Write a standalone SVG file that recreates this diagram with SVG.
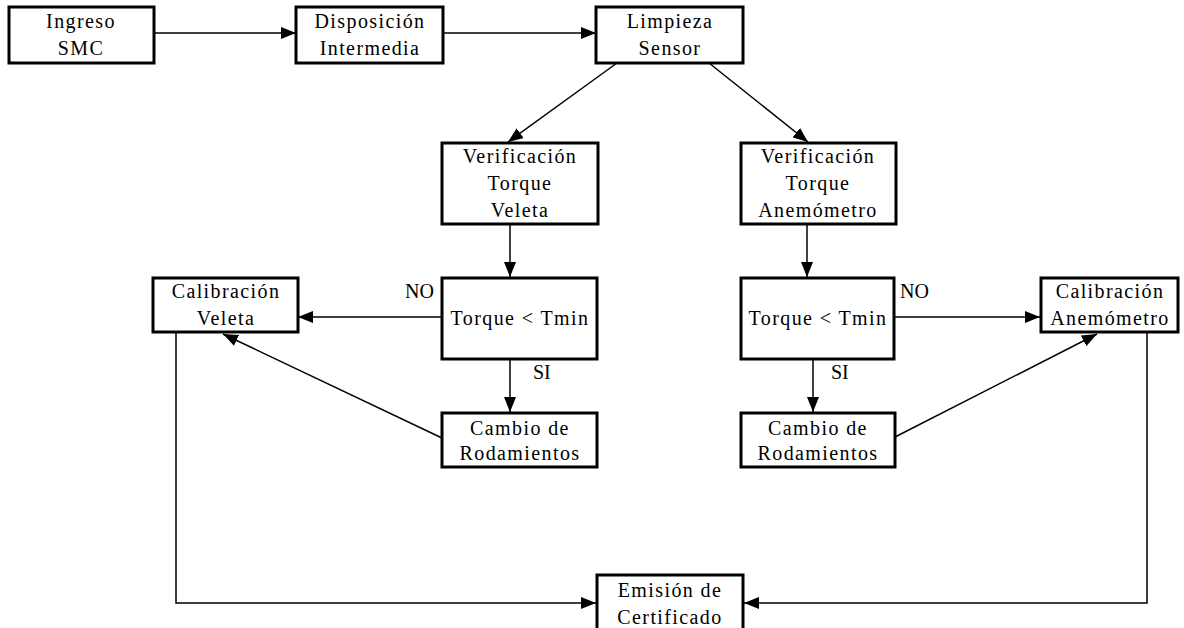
<svg xmlns="http://www.w3.org/2000/svg" width="1184" height="628" viewBox="0 0 1184 628" font-family="Liberation Serif, DejaVu Serif, serif">
  <style>
    .box { fill: #fff; stroke: #000; stroke-width: 3; }
    .lbl { font-size: 20px; fill: #000; text-anchor: middle; letter-spacing: 1.4px; }
    .tag { font-size: 20px; fill: #000; }
    .wire { fill: none; stroke: #000; stroke-width: 1.5; marker-end: url(#arrow); }
  </style>
  <defs>
    <marker id="arrow" markerUnits="userSpaceOnUse" markerWidth="16" markerHeight="12" refX="15" refY="6" orient="auto">
      <path d="M0,0 L15,6 L0,12 Z" fill="#000"/>
    </marker>
  </defs>
  <rect width="1184" height="628" fill="#fff"/>

  <!-- connectors -->
  <g id="connectors">
    <line class="wire" x1="154" y1="33" x2="296" y2="33"/>
    <line class="wire" x1="443" y1="33" x2="596" y2="33"/>
    <line class="wire" x1="617" y1="63" x2="508" y2="142"/>
    <line class="wire" x1="709" y1="63" x2="808" y2="142"/>
    <line class="wire" x1="510" y1="224" x2="510" y2="277"/>
    <line class="wire" x1="807" y1="224" x2="807" y2="277"/>
    <line class="wire" x1="442" y1="317" x2="298" y2="317"/>
    <line class="wire" x1="894" y1="317" x2="1040" y2="317"/>
    <line class="wire" x1="510" y1="359" x2="510" y2="412"/>
    <line class="wire" x1="813" y1="359" x2="813" y2="412"/>
    <line class="wire" x1="442" y1="438" x2="223" y2="334"/>
    <line class="wire" x1="895" y1="437" x2="1097" y2="334"/>
    <polyline class="wire" points="176,332 176,603 596,603"/>
    <polyline class="wire" points="1147,332 1147,603 744,603"/>
  </g>

  <!-- edge labels -->
  <g id="edge-labels">
    <text class="tag" x="405" y="298">NO</text>
    <text class="tag" x="900" y="298">NO</text>
    <text class="tag" x="533" y="379">SI</text>
    <text class="tag" x="831" y="379">SI</text>
  </g>

  <g id="ingreso">
    <rect class="box" x="9" y="7" width="145" height="56"/>
    <text class="lbl" x="81" y="28">Ingreso</text>
    <text class="lbl" x="81" y="55">SMC</text>
  </g>
  <g id="disposicion">
    <rect class="box" x="296" y="7" width="147" height="56"/>
    <text class="lbl" x="370" y="28">Disposición</text>
    <text class="lbl" x="370" y="55">Intermedia</text>
  </g>
  <g id="limpieza">
    <rect class="box" x="596" y="7" width="147" height="56"/>
    <text class="lbl" x="670" y="28">Limpieza</text>
    <text class="lbl" x="670" y="55">Sensor</text>
  </g>
  <g id="verif-veleta">
    <rect class="box" x="442" y="143" width="156" height="81"/>
    <text class="lbl" x="520" y="163">Verificación</text>
    <text class="lbl" x="520" y="190">Torque</text>
    <text class="lbl" x="520" y="217">Veleta</text>
  </g>
  <g id="verif-anemometro">
    <rect class="box" x="741" y="143" width="155" height="81"/>
    <text class="lbl" x="818" y="163">Verificación</text>
    <text class="lbl" x="818" y="190">Torque</text>
    <text class="lbl" x="818" y="217">Anemómetro</text>
  </g>
  <g id="torque-veleta">
    <rect class="box" x="442" y="278" width="155" height="81"/>
    <text class="lbl" x="520" y="325">Torque &lt; Tmin</text>
  </g>
  <g id="torque-anemometro">
    <rect class="box" x="741" y="278" width="153" height="81"/>
    <text class="lbl" x="818" y="325">Torque &lt; Tmin</text>
  </g>
  <g id="calib-veleta">
    <rect class="box" x="153" y="278" width="145" height="54"/>
    <text class="lbl" x="226" y="298">Calibración</text>
    <text class="lbl" x="226" y="325">Veleta</text>
  </g>
  <g id="calib-anemometro">
    <rect class="box" x="1041" y="278" width="137" height="54"/>
    <text class="lbl" x="1110" y="298">Calibración</text>
    <text class="lbl" x="1110" y="325">Anemómetro</text>
  </g>
  <g id="cambio-veleta">
    <rect class="box" x="442" y="413" width="155" height="54"/>
    <text class="lbl" x="520" y="435">Cambio de</text>
    <text class="lbl" x="520" y="460">Rodamientos</text>
  </g>
  <g id="cambio-anemometro">
    <rect class="box" x="741" y="413" width="154" height="54"/>
    <text class="lbl" x="818" y="435">Cambio de</text>
    <text class="lbl" x="818" y="460">Rodamientos</text>
  </g>
  <g id="emision">
    <rect class="box" x="597" y="575" width="146" height="60"/>
    <text class="lbl" x="670" y="597">Emisión de</text>
    <text class="lbl" x="670" y="624">Certificado</text>
  </g>
</svg>
